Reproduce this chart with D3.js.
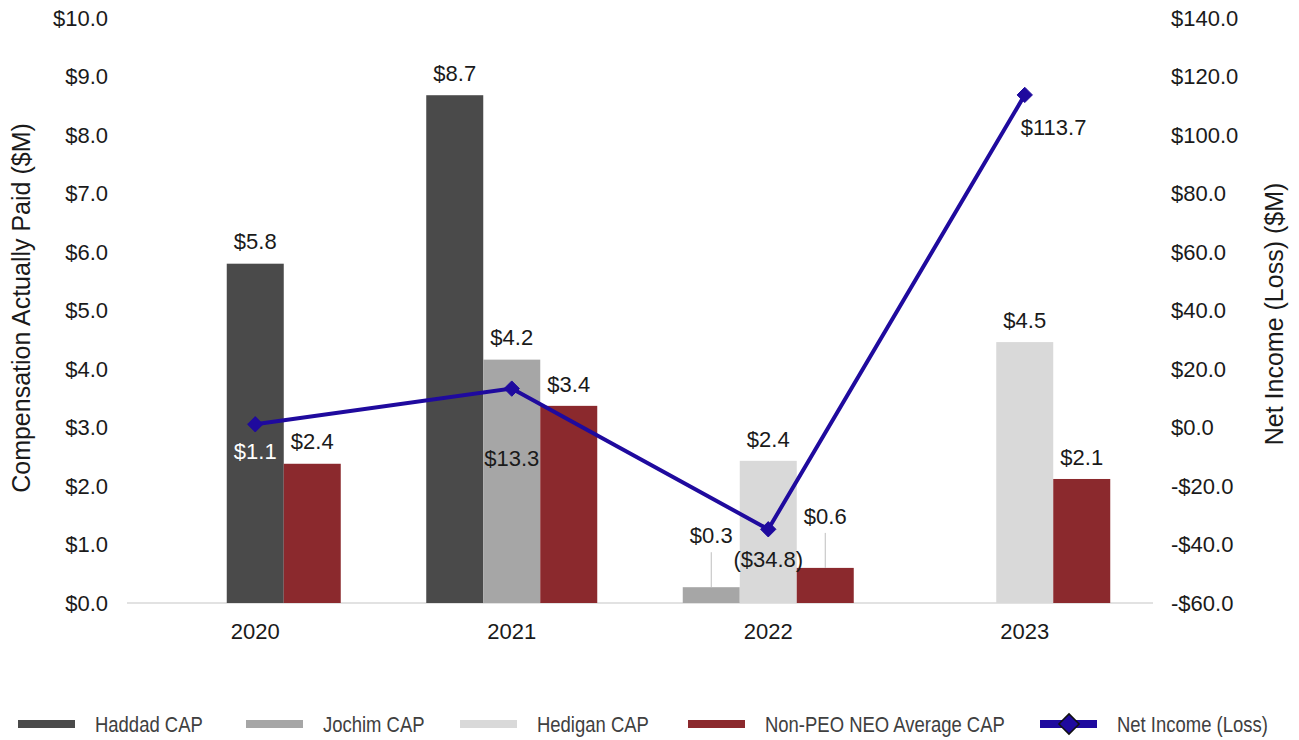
<!DOCTYPE html>
<html>
<head>
<meta charset="utf-8">
<script src="https://cdn.jsdelivr.net/npm/d3@7"></script>
<style>
  body { margin: 0; background: #fff; }
  text { font-family: "Liberation Sans", Arial, sans-serif; fill: #1a1a1a; }
  .legend text { fill: #404040; }
</style>
</head>
<body>
<svg id="chart" width="1299" height="740"></svg>
<script>
const years = ["2020", "2021", "2022", "2023"];
const haddadCap = [5.8, 8.68, null, null];
const jochimCap = [null, 4.16, 0.27, null];
const hediganCap = [null, null, 2.43, 4.46];
const nonPeoCap = [2.38, 3.37, 0.6, 2.12];
const netIncome = [1.1, 13.3, -34.8, 113.7];
const leftTicks = [0, 1, 2, 3, 4, 5, 6, 7, 8, 9, 10];
const rightTicks = [-60, -40, -20, 0, 20, 40, 60, 80, 100, 120, 140];

const barSeries = [
  { name: "Haddad CAP", values: haddadCap, color: "#4a4a4a" },
  { name: "Jochim CAP", values: jochimCap, color: "#a6a6a6" },
  { name: "Hedigan CAP", values: hediganCap, color: "#d9d9d9" },
  { name: "Non-PEO NEO Average CAP", values: nonPeoCap, color: "#8b292d" }
];
const lineColor = "#1f0a9e";
const fs = 22;

const svg = d3.select("#chart");
const x = d3.scaleBand().domain(years).range([127, 1153]);
const y = d3.scaleLinear().domain([0, 10]).range([603, 18]);
const y2 = d3.scaleLinear().domain([-60, 140]).range([603, 18]);
const fmt = d3.format(".1f");
const money = v => v < 0 ? "($" + fmt(-v) + ")" : "$" + fmt(v);

// baseline
svg.append("line")
  .attr("x1", x.range()[0]).attr("x2", x.range()[1])
  .attr("y1", y(0)).attr("y2", y(0))
  .attr("stroke", "#d9d9d9").attr("stroke-width", 1.5);

// left axis
svg.append("g").selectAll("text").data(leftTicks).enter().append("text")
  .attr("x", 108).attr("y", d => y(d)).attr("dy", "0.35em")
  .attr("text-anchor", "end").attr("font-size", fs)
  .text(d => "$" + fmt(d));

// right axis
svg.append("g").selectAll("text").data(rightTicks).enter().append("text")
  .attr("x", 1171).attr("y", d => y2(d)).attr("dy", "0.35em")
  .attr("font-size", fs)
  .text(d => (d < 0 ? "-$" + fmt(-d) : "$" + fmt(d)));

// x axis labels
svg.append("g").selectAll("text").data(years).enter().append("text")
  .attr("x", d => x(d) + x.bandwidth() / 2).attr("y", 631).attr("dy", "0.35em")
  .attr("text-anchor", "middle").attr("font-size", fs)
  .text(d => d);

// axis titles
svg.append("text")
  .attr("transform", "translate(30,308) rotate(-90)")
  .attr("text-anchor", "middle").attr("font-size", 25)
  .text("Compensation Actually Paid ($M)");
svg.append("text")
  .attr("transform", "translate(1283,314) rotate(-90)")
  .attr("text-anchor", "middle").attr("font-size", 25)
  .text("Net Income (Loss) ($M)");

// bars: in each year the present series fill the three right-hand slots
const slots = 3;
const barW = 57;
const bars = [];
years.forEach((yr, i) => {
  const present = barSeries.filter(s => s.values[i] != null);
  const start = x(yr) + x.bandwidth() / 2 - slots * barW / 2 + (slots - present.length) * barW;
  present.forEach((s, j) => {
    bars.push({ year: yr, series: s.name, value: s.values[i], color: s.color, x: start + j * barW });
  });
});

svg.append("g").selectAll("rect").data(bars).enter().append("rect")
  .attr("x", d => d.x).attr("y", d => y(d.value))
  .attr("width", barW).attr("height", d => y(0) - y(d.value))
  .attr("fill", d => d.color);

// bar labels (small bars get a leader line)
const lbl = svg.append("g");
bars.forEach(d => {
  const cx = d.x + barW / 2;
  const small = d.value < 1;
  const ly = small ? y(d.value) - 52 : y(d.value) - 22;
  if (small) {
    lbl.append("line")
      .attr("x1", cx).attr("x2", cx)
      .attr("y1", y(d.value)).attr("y2", ly + 17)
      .attr("stroke", "#bfbfbf").attr("stroke-width", 1);
  }
  lbl.append("text")
    .attr("x", cx).attr("y", ly).attr("dy", "0.35em")
    .attr("text-anchor", "middle").attr("font-size", fs)
    .text(money(d.value));
});

// net income line
const pts = years.map((yr, i) => ({ year: yr, value: netIncome[i] }));
const px = d => x(d.year) + x.bandwidth() / 2;
svg.append("path").datum(pts)
  .attr("fill", "none").attr("stroke", lineColor).attr("stroke-width", 4)
  .attr("stroke-linejoin", "round")
  .attr("d", d3.line().x(px).y(d => y2(d.value)));

const diamond = d3.symbol().type(d3.symbolDiamond2).size(150);
svg.append("g").selectAll("path").data(pts).enter().append("path")
  .attr("transform", d => `translate(${px(d)},${y2(d.value)})`)
  .attr("d", diamond)
  .attr("fill", lineColor).attr("stroke", lineColor).attr("stroke-width", 1);

const niLabelPos = [
  { dx: 0, dy: 27, anchor: "middle", color: "#ffffff" },
  { dx: 0, dy: 70, anchor: "middle", color: "#1a1a1a" },
  { dx: 0, dy: 30, anchor: "middle", color: "#1a1a1a" },
  { dx: -4, dy: 32, anchor: "start", color: "#1a1a1a" }
];
svg.append("g").selectAll("text").data(pts).enter().append("text")
  .attr("x", (d, i) => px(d) + niLabelPos[i].dx)
  .attr("y", (d, i) => y2(d.value) + niLabelPos[i].dy).attr("dy", "0.35em")
  .attr("text-anchor", (d, i) => niLabelPos[i].anchor)
  .attr("font-size", fs)
  .style("fill", (d, i) => niLabelPos[i].color)
  .text(d => money(d.value));

// legend (condensed text like the original)
const legendItems = [
  { name: "Haddad CAP", color: "#4a4a4a", x: 18 },
  { name: "Jochim CAP", color: "#a6a6a6", x: 246 },
  { name: "Hedigan CAP", color: "#d9d9d9", x: 460 },
  { name: "Non-PEO NEO Average CAP", color: "#8b292d", x: 688 },
  { name: "Net Income (Loss)", color: lineColor, x: 1040, line: true }
];
const lg = svg.append("g").attr("class", "legend");
legendItems.forEach(it => {
  const g = lg.append("g").attr("transform", `translate(${it.x},724)`);
  g.append("rect").attr("x", 0).attr("y", -4).attr("width", 57).attr("height", 8).attr("fill", it.color);
  if (it.line) {
    g.append("path").attr("transform", "translate(29,0)")
      .attr("d", d3.symbol().type(d3.symbolDiamond2).size(260))
      .attr("fill", lineColor).attr("stroke", "#111").attr("stroke-width", 1.5);
  }
  g.append("text").attr("transform", "translate(77,0) scale(0.84,1)")
    .attr("dy", "0.35em").attr("font-size", 22).text(it.name);
});
</script>
</body>
</html>
